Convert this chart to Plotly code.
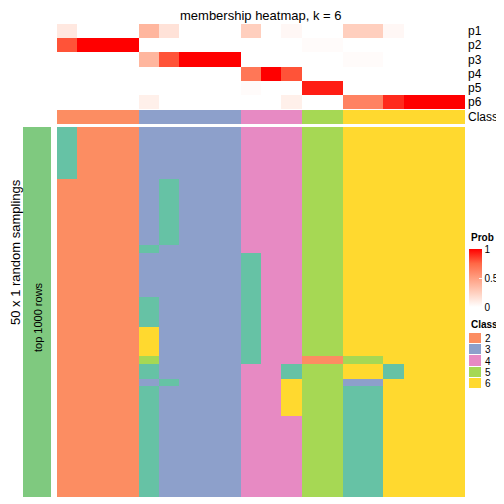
import plotly.graph_objects as go

# page has an 8px body margin, so the figure is drawn 8px in from the window corner
OFF = 8
W = H = 504 - OFF

# ---------------- data ----------------
prob_rows = ["p1", "p2", "p3", "p4", "p5", "p6"]
p1 = [0.12, 0, 0, 0, 0.38, 0.15, 0, 0, 0, 0.25, 0, 0.04, 0, 0, 0.25, 0.25, 0.04, 0, 0, 0]
p2 = [0.8, 1, 1, 1, 0, 0, 0, 0, 0, 0, 0, 0, 0.02, 0.02, 0, 0, 0, 0, 0, 0]
p3 = [0, 0, 0, 0, 0.38, 0.8, 1, 1, 1, 0, 0, 0, 0, 0, 0.02, 0.02, 0, 0, 0, 0]
p4 = [0, 0, 0, 0, 0, 0, 0, 0, 0, 0.68, 1, 0.8, 0, 0, 0, 0, 0, 0, 0, 0]
p5 = [0, 0, 0, 0, 0, 0, 0, 0, 0, 0.02, 0, 0, 0.93, 0.93, 0, 0, 0, 0, 0, 0]
p6 = [0, 0, 0, 0, 0.08, 0, 0, 0, 0, 0, 0, 0.08, 0, 0, 0.63, 0.63, 0.9, 1, 1, 1]

col_class = [2, 2, 2, 2, 3, 3, 3, 3, 3, 4, 4, 4, 5, 5, 6, 6, 6, 6, 6, 6]

# 50 random samplings (rows) x 20 samples (columns), class labels
samplings = (
    ["12223333344455666666"] * 7
    + ["22223133344455666666"] * 9
    + ["22221333344455666666"] * 1
    + ["22223333314455666666"] * 6
    + ["22221333314455666666"] * 4
    + ["22226333314455666666"] * 4
    + ["22225333314422556666"] * 1
    + ["22221333344155661666"] * 2
    + ["22223133344655336666"] * 1
    + ["22221333344655116666"] * 4
    + ["22221333344455116666"] * 11
)

legend_classes = ["2", "3", "4", "5", "6"]
class_colors = {1: "#66C2A5", 2: "#FC8D62", 3: "#8DA0CB", 4: "#E78AC3", 5: "#A6D854", 6: "#FFD92F"}

# ---------------- helpers (window pixels -> figure fractions) ----------------
def px_x(v):
    return (v - OFF) / W

def px_y(v):
    return 1 - (v - OFF) / H

FONT = "Liberation Sans, Arial, sans-serif"

disc = []
n = 6
for i, c in enumerate(range(1, 7)):
    disc.append([i / n, class_colors[c]])
    disc.append([(i + 1) / n, class_colors[c]])

prob_scale = [[0, "#FFFFFF"], [0.25, "#FFCFBE"], [0.5, "#FF9E81"], [0.75, "#FF6846"], [1, "#FF0000"]]

z_main = [[int(ch) for ch in row] for row in samplings]
ncol = len(col_class)
cols = list(range(ncol))

fig = go.Figure()

# probability heatmap (its colorbar is the "Prob" legend)
fig.add_trace(go.Heatmap(
    z=[p1, p2, p3, p4, p5, p6], x=cols, y=prob_rows,
    colorscale=prob_scale, zmin=0, zmax=1,
    xaxis="x", yaxis="y", hoverinfo="skip",
    colorbar=dict(
        x=px_x(469), xanchor="left", xref="paper",
        y=px_y(307), yanchor="bottom", yref="paper",
        len=58, lenmode="pixels", thickness=13, thicknessmode="pixels",
        xpad=0, ypad=0, outlinewidth=0,
        tickvals=[0, 0.5, 1], ticktext=["0", "0.5", "1"],
        ticks="inside", ticklen=3, tickcolor="rgba(255,255,255,0.85)",
        tickfont=dict(size=10, family=FONT, color="black"),
    ),
))

# class annotation row
fig.add_trace(go.Heatmap(
    z=[col_class], x=cols, y=["Class"],
    colorscale=disc, zmin=0.5, zmax=6.5, showscale=False,
    xaxis="x", yaxis="y2", hoverinfo="skip",
))

# main sampling heatmap
fig.add_trace(go.Heatmap(
    z=z_main, x=cols, y=list(range(len(samplings))),
    colorscale=disc, zmin=0.5, zmax=6.5, showscale=False,
    xaxis="x", yaxis="y3", hoverinfo="skip",
))

# left green "top 1000 rows" bar
fig.add_trace(go.Heatmap(
    z=[[1]], x=[0], y=[0],
    colorscale=[[0, "#7FC97F"], [1, "#7FC97F"]], showscale=False,
    xaxis="x2", yaxis="y4", hoverinfo="skip",
))

# class legend swatches
fig.add_trace(go.Heatmap(
    z=[[int(c)] for c in legend_classes], x=[0], y=legend_classes,
    colorscale=disc, zmin=0.5, zmax=6.5, showscale=False, ygap=1,
    xaxis="x3", yaxis="y5", hoverinfo="skip",
))

hidden = dict(showgrid=False, zeroline=False, showticklabels=False, ticks="", showline=False, automargin=False)
rlab = dict(side="right", showgrid=False, zeroline=False, ticks="", showline=False, automargin=False,
            type="category", tickmode="array")

fig.update_layout(
    width=W, height=H,
    margin=dict(l=0, r=0, t=0, b=0, autoexpand=False),
    paper_bgcolor="white", plot_bgcolor="white",
    font=dict(family=FONT, color="black"),
    showlegend=False,
    xaxis=dict(domain=[px_x(57), px_x(465)], range=[-0.5, ncol - 0.5], anchor="y3", **hidden),
    yaxis=dict(domain=[px_y(109), px_y(24)], anchor="x", autorange="reversed",
               tickvals=prob_rows, ticktext=prob_rows,
               tickfont=dict(size=12, family=FONT, color="black"), ticklabelstandoff=2, **rlab),
    yaxis2=dict(domain=[px_y(124), px_y(110)], anchor="x",
                tickvals=["Class"], ticktext=["Class"],
                tickfont=dict(size=12, family=FONT, color="black"), ticklabelstandoff=2, **rlab),
    yaxis3=dict(domain=[px_y(497), px_y(127)], anchor="x", autorange="reversed", **hidden),
    xaxis2=dict(domain=[px_x(23), px_x(51)], anchor="y4", **hidden),
    yaxis4=dict(domain=[px_y(497), px_y(127)], anchor="x2", **hidden),
    xaxis3=dict(domain=[px_x(469), px_x(481)], anchor="y5", **hidden),
    yaxis5=dict(domain=[px_y(389), px_y(333)], anchor="x3", autorange="reversed",
                tickvals=legend_classes, ticktext=legend_classes,
                tickfont=dict(size=10, family=FONT, color="black"), ticklabelstandoff=3, **rlab),
    annotations=[
        dict(text="membership heatmap, k = 6", x=px_x(261), y=px_y(15), xref="paper", yref="paper",
             showarrow=False, font=dict(size=13, family=FONT, color="black"), xanchor="center", yanchor="middle"),
        dict(text="50 x 1 random samplings", x=px_x(15), y=px_y(252), xref="paper", yref="paper",
             showarrow=False, textangle=-90, font=dict(size=13, family=FONT, color="black"),
             xanchor="center", yanchor="middle"),
        dict(text="top 1000 rows", x=px_x(38), y=px_y(317), xref="paper", yref="paper",
             showarrow=False, textangle=-90, font=dict(size=11, family=FONT, color="black"),
             xanchor="center", yanchor="middle"),
        dict(text="<b>Prob</b>", x=px_x(469), y=px_y(238), xref="paper", yref="paper",
             showarrow=False, font=dict(size=10, family=FONT, color="black"),
             xanchor="left", yanchor="middle"),
        dict(text="<b>Class</b>", x=px_x(469), y=px_y(324), xref="paper", yref="paper",
             showarrow=False, font=dict(size=10, family=FONT, color="black"),
             xanchor="left", yanchor="middle"),
    ],
)

fig.write_html("out.html")
